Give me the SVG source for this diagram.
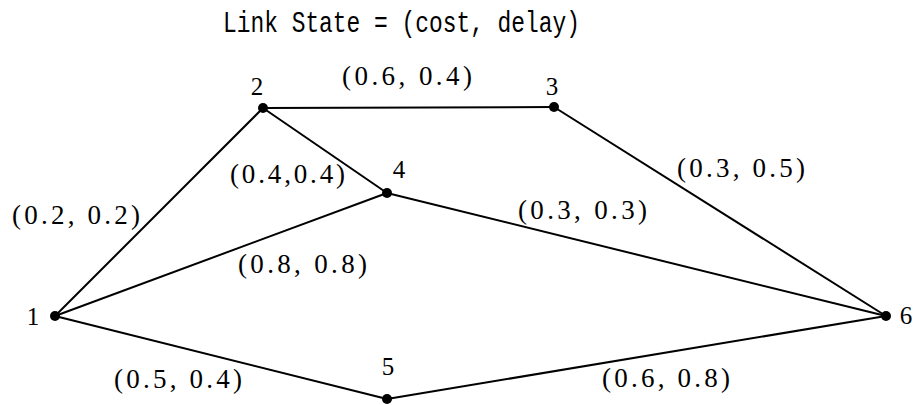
<svg xmlns="http://www.w3.org/2000/svg" width="918" height="405" viewBox="0 0 918 405" xml:space="preserve">
<style>
.edge{stroke:#000;stroke-width:2;fill:none}
.dot{fill:#000}
.nl{font-family:"Liberation Serif",serif;font-size:25px;fill:#000;text-anchor:middle}
.el{font-family:"Liberation Serif",serif;font-size:27px;fill:#000}
.title{font-family:"Liberation Mono",monospace;font-size:30px;fill:#000}
</style>
<rect width="918" height="405" fill="#fff"/>
<text class="title" x="223" y="32" textLength="357" lengthAdjust="spacingAndGlyphs">Link State = (cost, delay)</text>
<g id="connectors">
<line class="edge" x1="55" y1="316" x2="263" y2="108"/>
<line class="edge" x1="55" y1="316" x2="387" y2="193"/>
<line class="edge" x1="55" y1="316" x2="387" y2="399"/>
<line class="edge" x1="263" y1="108" x2="554" y2="107"/>
<line class="edge" x1="263" y1="108" x2="387" y2="193"/>
<line class="edge" x1="554" y1="107" x2="886" y2="316"/>
<line class="edge" x1="387" y1="193" x2="886" y2="316"/>
<line class="edge" x1="387" y1="399" x2="886" y2="316"/>
</g>
<g id="edge-labels">
<text class="el" x="342" y="85" textLength="130" lengthAdjust="spacing">(0.6,  0.4)</text>
<text class="el" x="230" y="183" textLength="115" lengthAdjust="spacing">(0.4,0.4)</text>
<text class="el" x="12" y="224" textLength="128" lengthAdjust="spacing">(0.2,  0.2)</text>
<text class="el" x="238" y="273" textLength="129" lengthAdjust="spacing">(0.8,  0.8)</text>
<text class="el" x="518" y="219" textLength="129" lengthAdjust="spacing">(0.3,  0.3)</text>
<text class="el" x="677" y="177" textLength="128" lengthAdjust="spacing">(0.3,  0.5)</text>
<text class="el" x="114" y="388" textLength="128" lengthAdjust="spacing">(0.5,  0.4)</text>
<text class="el" x="602" y="387" textLength="128" lengthAdjust="spacing">(0.6,  0.8)</text>
</g>
<g id="node1"><circle class="dot" cx="55" cy="316" r="5"/><text class="nl" x="33" y="325">1</text></g>
<g id="node2"><circle class="dot" cx="263" cy="108" r="5"/><text class="nl" x="257" y="95">2</text></g>
<g id="node3"><circle class="dot" cx="554" cy="107" r="5"/><text class="nl" x="552" y="95">3</text></g>
<g id="node4"><circle class="dot" cx="387" cy="193" r="5"/><text class="nl" x="399" y="178">4</text></g>
<g id="node5"><circle class="dot" cx="387" cy="399" r="5"/><text class="nl" x="388" y="375">5</text></g>
<g id="node6"><circle class="dot" cx="886" cy="316" r="5"/><text class="nl" x="906" y="324">6</text></g>
</svg>
